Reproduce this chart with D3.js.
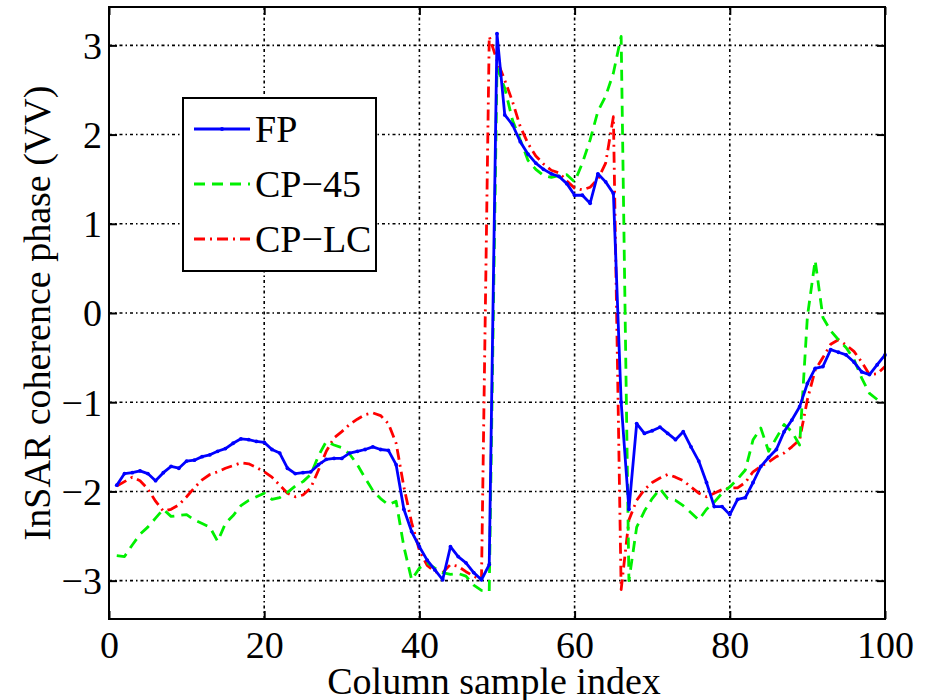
<!DOCTYPE html>
<html>
<head>
<meta charset="utf-8">
<script src="https://cdn.jsdelivr.net/npm/d3@7"></script>
<style>
  body { margin: 0; background: #fff; }
</style>
</head>
<body>
<div id="chart"></div>
<script>
'use strict';

// Column sample index 1..100
var fpValues = [
  -1.93, -1.80, -1.79, -1.77, -1.80, -1.88, -1.79, -1.72, -1.74, -1.66,
  -1.65, -1.61, -1.59, -1.55, -1.52, -1.46, -1.41, -1.42, -1.44, -1.45,
  -1.53, -1.57, -1.74, -1.80, -1.79, -1.78, -1.70, -1.64, -1.63, -1.63,
  -1.57, -1.55, -1.53, -1.50, -1.53, -1.54, -1.70, -2.20, -2.45, -2.62,
  -2.77, -2.88, -2.99, -2.62, -2.73, -2.80, -2.91, -2.99, -2.82, 3.13,
  2.22, 2.11, 1.92, 1.78, 1.68, 1.61, 1.56, 1.53, 1.45, 1.32,
  1.32, 1.23, 1.56, 1.47, 1.34, -1.00, -2.20, -1.24, -1.35, -1.32,
  -1.28, -1.35, -1.42, -1.33, -1.50, -1.66, -1.90, -2.17, -2.17, -2.26,
  -2.09, -2.07, -1.90, -1.72, -1.62, -1.53, -1.33, -1.20, -1.05, -0.79,
  -0.62, -0.60, -0.41, -0.44, -0.47, -0.55, -0.66, -0.69, -0.58, -0.47
];

var cp45Values = [
  -2.72, -2.73, -2.60, -2.48, -2.40, -2.30, -2.20, -2.28, -2.27, -2.26,
  -2.32, -2.36, -2.40, -2.56, -2.36, -2.27, -2.16, -2.10, -2.06, -2.02,
  -2.09, -2.07, -2.01, -1.94, -1.89, -1.81, -1.60, -1.44, -1.48, -1.51,
  -1.58, -1.70, -1.85, -1.99, -2.08, -2.15, -2.11, -2.62, -2.99, -2.86,
  -2.80, -2.86, -2.91, -2.93, -2.92, -2.95, -3.05, -3.11, -3.12, 2.75,
  2.52, 2.16, 1.94, 1.71, 1.61, 1.54, 1.52, 1.54, 1.55, 1.47,
  1.68, 1.94, 2.26, 2.43, 2.69, 3.10, -3.00, -2.40, -2.22, -2.08,
  -1.97, -2.08, -2.10, -2.16, -2.24, -2.32, -2.20, -2.12, -2.02, -1.95,
  -1.86, -1.76, -1.42, -1.29, -1.55, -1.40, -1.25, -1.33, -1.48, -0.04,
  0.59, -0.05, -0.20, -0.30, -0.39, -0.52, -0.73, -0.90, -0.97, -0.99
];

var cplcValues = [
  -1.94, -1.89, -1.84, -1.88, -1.97, -2.11, -2.22, -2.20, -2.15, -2.06,
  -1.96, -1.87, -1.81, -1.78, -1.74, -1.71, -1.68, -1.69, -1.73, -1.78,
  -1.84, -1.93, -2.02, -2.06, -2.04, -1.96, -1.76, -1.55, -1.40, -1.33,
  -1.25, -1.19, -1.14, -1.12, -1.15, -1.24, -1.46, -1.95, -2.35, -2.66,
  -2.83, -2.90, -2.91, -2.82, -2.84, -2.90, -2.95, -2.99, 3.10, 2.83,
  2.61, 2.37, 2.09, 1.90, 1.76, 1.67, 1.60, 1.57, 1.48, 1.40,
  1.38, 1.41, 1.50, 1.68, 2.20, -3.10, -2.32, -2.10, -1.98, -1.90,
  -1.85, -1.81, -1.84, -1.88, -1.95, -2.02, -2.06, -2.02, -1.98, -1.96,
  -1.96, -1.90, -1.78, -1.72, -1.67, -1.61, -1.57, -1.50, -1.42, -0.97,
  -0.64, -0.50, -0.35, -0.30, -0.36, -0.43, -0.55, -0.69, -0.68, -0.60
];

var xTicks = [0, 20, 40, 60, 80, 100];
var yTicks = [-3, -2, -1, 0, 1, 2, 3];
var seriesNames = ['FP', 'CP\u221245', 'CP\u2212LC'];

var FONT = '"Liberation Serif", "Times New Roman", Times, "DejaVu Serif", serif';
var FONT_SIZE = '38px';

var width = 926, height = 700;
var margin = { left: 109, top: 7, right: 41, bottom: 81 };
var innerWidth = width - margin.left - margin.right;
var innerHeight = height - margin.top - margin.bottom;

var svg = d3.select('#chart').append('svg')
  .attr('width', width)
  .attr('height', height)
  .attr('font-family', FONT);

var chart = svg.append('g')
  .attr('transform', 'translate(' + margin.left + ',' + margin.top + ')');

var x = d3.scaleLinear().domain([0, 100]).range([0, innerWidth]);
var y = d3.scaleLinear().domain([-3.43, 3.43]).range([innerHeight, 0]);

// grid
var gridDash = '3,3,1.5,3';
chart.selectAll('line.vgrid')
  .data(xTicks.slice(1, -1))
  .enter().append('line')
  .attr('class', 'vgrid')
  .attr('x1', function(d) { return x(d); })
  .attr('x2', function(d) { return x(d); })
  .attr('y1', 0).attr('y2', innerHeight)
  .attr('stroke', '#000').attr('stroke-width', 1.6)
  .attr('stroke-dasharray', gridDash);

chart.selectAll('line.hgrid')
  .data(yTicks)
  .enter().append('line')
  .attr('class', 'hgrid')
  .attr('x1', 0).attr('x2', innerWidth)
  .attr('y1', function(d) { return y(d); })
  .attr('y2', function(d) { return y(d); })
  .attr('stroke', '#000').attr('stroke-width', 1.6)
  .attr('stroke-dasharray', gridDash);

// lines
function toPoints(values) {
  return values.map(function(v, i) { return { idx: i + 1, value: v }; });
}

var line = d3.line()
  .x(function(d) { return x(d.idx); })
  .y(function(d) { return y(d.value); });

var series = [
  { name: seriesNames[0], values: toPoints(fpValues), color: '#0000ff', dash: null },
  { name: seriesNames[1], values: toPoints(cp45Values), color: '#00f000', dash: '11,7' },
  { name: seriesNames[2], values: toPoints(cplcValues), color: '#ff0000', dash: '11,5,2,5' }
];

// draw in reverse so FP ends on top
series.slice().reverse().forEach(function(s) {
  chart.append('path')
    .datum(s.values)
    .attr('fill', 'none')
    .attr('stroke', s.color)
    .attr('stroke-width', 2.8)
    .attr('stroke-dasharray', s.dash)
    .attr('stroke-linejoin', 'round')
    .attr('d', line);
});

chart.selectAll('circle.fp')
  .data(series[0].values)
  .enter().append('circle')
  .attr('class', 'fp')
  .attr('cx', function(d) { return x(d.idx); })
  .attr('cy', function(d) { return y(d.value); })
  .attr('r', 1.9)
  .attr('fill', '#0000ff');

// axes (MATLAB box with inward ticks)
var xAxis = d3.axisBottom(x).tickValues(xTicks).tickSizeInner(-8).tickSizeOuter(0)
  .tickPadding(13).tickFormat(d3.format('d'));
var yAxis = d3.axisLeft(y).tickValues(yTicks).tickSizeInner(-8).tickSizeOuter(0)
  .tickPadding(7).tickFormat(function(d) { return d < 0 ? '\u2212' + Math.abs(d) : d; });

var gx = chart.append('g')
  .attr('transform', 'translate(0,' + innerHeight + ')')
  .call(xAxis);
var gy = chart.append('g').call(yAxis);

chart.append('g')
  .call(d3.axisTop(x).tickValues(xTicks).tickSizeInner(-8).tickSizeOuter(0).tickFormat(''));
chart.append('g')
  .attr('transform', 'translate(' + innerWidth + ',0)')
  .call(d3.axisRight(y).tickValues(yTicks).tickSizeInner(-8).tickSizeOuter(0).tickFormat(''));

chart.selectAll('.domain').remove();
chart.selectAll('g').attr('font-family', FONT);
chart.selectAll('.tick line').attr('stroke', '#000').attr('stroke-width', 2);
gx.selectAll('text').style('font-size', FONT_SIZE).style('font-family', FONT).attr('dy', '0.68em');
gy.selectAll('text').style('font-size', FONT_SIZE).style('font-family', FONT).attr('dy', '0.34em');

chart.append('rect')
  .attr('x', 0).attr('y', 0)
  .attr('width', innerWidth).attr('height', innerHeight)
  .attr('fill', 'none').attr('stroke', '#000').attr('stroke-width', 2);

// axis labels
svg.append('text')
  .attr('x', margin.left + innerWidth / 2 - 3)
  .attr('y', 694)
  .attr('text-anchor', 'middle')
  .style('font-size', FONT_SIZE)
  .style('font-family', FONT)
  .text('Column sample index');

svg.append('text')
  .attr('transform', 'translate(50,' + (margin.top + innerHeight / 2) + ') rotate(-90)')
  .attr('text-anchor', 'middle')
  .style('font-size', FONT_SIZE)
  .style('font-family', FONT)
  .text('InSAR coherence phase (VV)');

// legend
var legend = svg.append('g').attr('transform', 'translate(183,98)');
legend.append('rect')
  .attr('width', 193).attr('height', 173)
  .attr('fill', '#fff').attr('stroke', '#000').attr('stroke-width', 2);

var legendY = d3.scalePoint().domain(seriesNames).range([31, 141]);

series.forEach(function(s) {
  var g = legend.append('g').attr('transform', 'translate(0,' + legendY(s.name) + ')');
  g.append('line')
    .attr('x1', 11).attr('x2', 67)
    .attr('stroke', s.color).attr('stroke-width', 2.8)
    .attr('stroke-dasharray', s.dash);
  if (s.name === seriesNames[0]) {
    g.append('circle').attr('cx', 39).attr('r', 2).attr('fill', s.color);
  }
  g.append('text')
    .attr('x', 72).attr('dy', '0.35em')
    .style('font-size', FONT_SIZE)
    .style('font-family', FONT)
    .text(s.name);
});
</script>
</body>
</html>
